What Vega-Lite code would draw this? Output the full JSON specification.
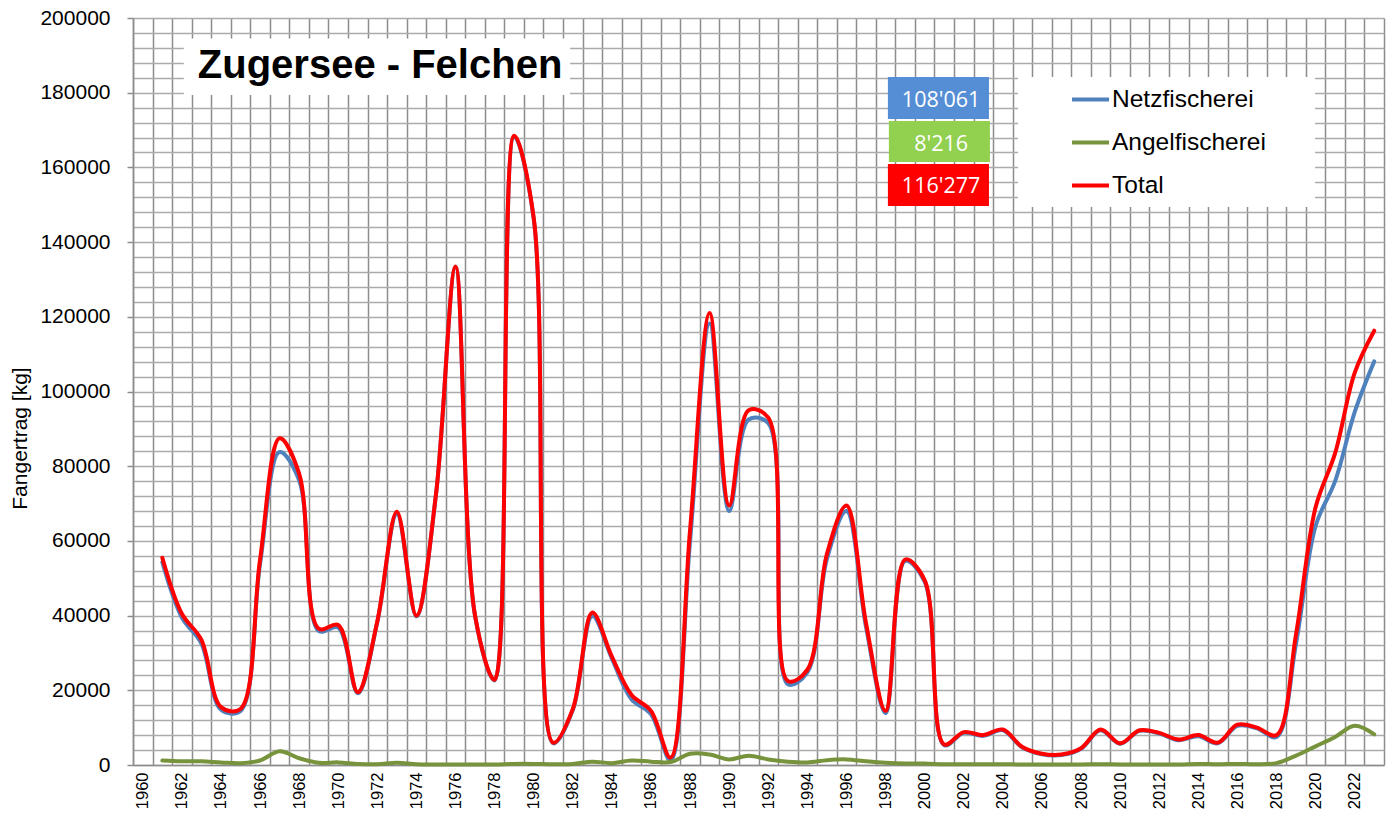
{
  "$schema": "https://vega.github.io/schema/vega-lite/v6.json",
  "autosize": "none",
  "width": 1251,
  "height": 747,
  "padding": {"left": 133, "top": 18, "right": 10, "bottom": 50},
  "background": "white",
  "config": {"view": {"stroke": null}, "font": "Liberation Sans"},
  "data": {"values": [
    {"year":1961,"Netzfischerei":54300,"Angelfischerei":1200,"Total":55500},
    {"year":1962,"Netzfischerei":39500,"Angelfischerei":1000,"Total":40500},
    {"year":1963,"Netzfischerei":32500,"Angelfischerei":1000,"Total":33500},
    {"year":1964,"Netzfischerei":14800,"Angelfischerei":700,"Total":15500},
    {"year":1965,"Netzfischerei":14500,"Angelfischerei":500,"Total":15000},
    {"year":1966,"Netzfischerei":53800,"Angelfischerei":1200,"Total":55000},
    {"year":1967,"Netzfischerei":83800,"Angelfischerei":3700,"Total":87500},
    {"year":1968,"Netzfischerei":76200,"Angelfischerei":1800,"Total":78000},
    {"year":1969,"Netzfischerei":35900,"Angelfischerei":600,"Total":36500},
    {"year":1970,"Netzfischerei":36800,"Angelfischerei":700,"Total":37500},
    {"year":1971,"Netzfischerei":19200,"Angelfischerei":300,"Total":19500},
    {"year":1972,"Netzfischerei":38300,"Angelfischerei":200,"Total":38500},
    {"year":1973,"Netzfischerei":67200,"Angelfischerei":600,"Total":67800},
    {"year":1974,"Netzfischerei":39800,"Angelfischerei":200,"Total":40000},
    {"year":1975,"Netzfischerei":72350,"Angelfischerei":150,"Total":72500},
    {"year":1976,"Netzfischerei":133350,"Angelfischerei":150,"Total":133500},
    {"year":1977,"Netzfischerei":39850,"Angelfischerei":150,"Total":40000},
    {"year":1978,"Netzfischerei":22650,"Angelfischerei":150,"Total":22800},
    {"year":1979,"Netzfischerei":168200,"Angelfischerei":300,"Total":168500},
    {"year":1980,"Netzfischerei":146200,"Angelfischerei":300,"Total":146500},
    {"year":1981,"Netzfischerei":5800,"Angelfischerei":200,"Total":6000},
    {"year":1982,"Netzfischerei":14700,"Angelfischerei":300,"Total":15000},
    {"year":1983,"Netzfischerei":39900,"Angelfischerei":900,"Total":40800},
    {"year":1984,"Netzfischerei":28500,"Angelfischerei":500,"Total":29000},
    {"year":1985,"Netzfischerei":17600,"Angelfischerei":1200,"Total":18800},
    {"year":1986,"Netzfischerei":13600,"Angelfischerei":900,"Total":14500},
    {"year":1987,"Netzfischerei":1200,"Angelfischerei":800,"Total":2000},
    {"year":1988,"Netzfischerei":60000,"Angelfischerei":3000,"Total":63000},
    {"year":1989,"Netzfischerei":118200,"Angelfischerei":2800,"Total":121000},
    {"year":1990,"Netzfischerei":68000,"Angelfischerei":1500,"Total":69500},
    {"year":1991,"Netzfischerei":92500,"Angelfischerei":2500,"Total":95000},
    {"year":1992,"Netzfischerei":91500,"Angelfischerei":1500,"Total":93000},
    {"year":1993,"Netzfischerei":21600,"Angelfischerei":900,"Total":22500},
    {"year":1994,"Netzfischerei":24800,"Angelfischerei":700,"Total":25500},
    {"year":1995,"Netzfischerei":55200,"Angelfischerei":1300,"Total":56500},
    {"year":1996,"Netzfischerei":68000,"Angelfischerei":1500,"Total":69500},
    {"year":1997,"Netzfischerei":37000,"Angelfischerei":1000,"Total":38000},
    {"year":1998,"Netzfischerei":13900,"Angelfischerei":600,"Total":14500},
    {"year":1999,"Netzfischerei":54600,"Angelfischerei":400,"Total":55000},
    {"year":2000,"Netzfischerei":49100,"Angelfischerei":400,"Total":49500},
    {"year":2001,"Netzfischerei":5300,"Angelfischerei":200,"Total":5500},
    {"year":2002,"Netzfischerei":8600,"Angelfischerei":200,"Total":8800},
    {"year":2003,"Netzfischerei":7800,"Angelfischerei":200,"Total":8000},
    {"year":2004,"Netzfischerei":9300,"Angelfischerei":200,"Total":9500},
    {"year":2005,"Netzfischerei":4650,"Angelfischerei":150,"Total":4800},
    {"year":2006,"Netzfischerei":2850,"Angelfischerei":150,"Total":3000},
    {"year":2007,"Netzfischerei":2650,"Angelfischerei":150,"Total":2800},
    {"year":2008,"Netzfischerei":4350,"Angelfischerei":150,"Total":4500},
    {"year":2009,"Netzfischerei":9300,"Angelfischerei":200,"Total":9500},
    {"year":2010,"Netzfischerei":5650,"Angelfischerei":150,"Total":5800},
    {"year":2011,"Netzfischerei":9150,"Angelfischerei":150,"Total":9300},
    {"year":2012,"Netzfischerei":8450,"Angelfischerei":150,"Total":8600},
    {"year":2013,"Netzfischerei":6650,"Angelfischerei":150,"Total":6800},
    {"year":2014,"Netzfischerei":7700,"Angelfischerei":300,"Total":8000},
    {"year":2015,"Netzfischerei":5800,"Angelfischerei":200,"Total":6000},
    {"year":2016,"Netzfischerei":10500,"Angelfischerei":300,"Total":10800},
    {"year":2017,"Netzfischerei":9800,"Angelfischerei":200,"Total":10000},
    {"year":2018,"Netzfischerei":7500,"Angelfischerei":500,"Total":8000},
    {"year":2019,"Netzfischerei":32500,"Angelfischerei":2500,"Total":35000},
    {"year":2020,"Netzfischerei":64000,"Angelfischerei":5000,"Total":69000},
    {"year":2021,"Netzfischerei":76000,"Angelfischerei":7500,"Total":83500},
    {"year":2022,"Netzfischerei":94500,"Angelfischerei":10500,"Total":105000},
    {"year":2023,"Netzfischerei":108061,"Angelfischerei":8216,"Total":116277}
  ]},
  "resolve": {"axis": {"x": "independent", "y": "independent"}},
  "layer": [
    {
      "mark": {"type": "line", "interpolate": "catmull-rom", "strokeWidth": 4, "strokeCap": "round", "strokeJoin": "round"},
      "encoding": {
        "x": {"field": "year", "type": "quantitative",
          "scale": {"domain": [1959.5, 2023.5], "nice": false, "zero": false},
          "axis": {"orient": "bottom", "values": [1960,1962,1964,1966,1968,1970,1972,1974,1976,1978,1980,1982,1984,1986,1988,1990,1992,1994,1996,1998,2000,2002,2004,2006,2008,2010,2012,2014,2016,2018,2020,2022],
            "format": "d", "labelAngle": -90, "labelFontSize": 16.5, "labelColor": "black", "labelPadding": 7,
            "ticks": false, "grid": false, "domainColor": "#8c8c8c", "domainWidth": 1.5, "title": null, "labelFlush": false, "labelOverlap": false}},
        "y": {"field": "Netzfischerei", "type": "quantitative",
          "scale": {"domain": [0, 200000], "nice": false, "zero": true},
          "axis": {"orient": "left", "values": [0,20000,40000,60000,80000,100000,120000,140000,160000,180000,200000],
            "format": "d", "labelFontSize": 21, "labelColor": "black", "labelPadding": 17, "tickSize": 6, "tickColor": "#8c8c8c", "tickWidth": 1.5,
            "grid": false, "domainColor": "#8c8c8c", "domainWidth": 1.5, "labelFlush": false, "labelOverlap": false,
            "title": "Fangertrag [kg]", "titleFontSize": 21, "titleFontWeight": "normal", "titleColor": "black", "titlePadding": 9, "titleY": 420}},
        "color": {"datum": "Netzfischerei", "type": "nominal",
          "scale": {"domain": ["Netzfischerei", "Angelfischerei", "Total"], "range": ["#4F81BD", "#77933C", "#FF0000"]},
          "legend": {"orient": "none", "legendX": 937, "legendY": 61, "title": null, "symbolType": "stroke", "symbolSize": 1369, "symbolStrokeWidth": 4,
            "labelFontSize": 24.5, "labelColor": "black", "labelOffset": 1, "rowPadding": 11, "padding": 0, "zindex": 1}}
      }
    },
    {
      "mark": {"type": "line", "interpolate": "catmull-rom", "strokeWidth": 4, "strokeCap": "round", "strokeJoin": "round"},
      "encoding": {
        "x": {"field": "year", "type": "quantitative",
          "axis": {"orient": "top", "values": [1959.5,1960.5,1961.5,1962.5,1963.5,1964.5,1965.5,1966.5,1967.5,1968.5,1969.5,1970.5,1971.5,1972.5,1973.5,1974.5,1975.5,1976.5,1977.5,1978.5,1979.5,1980.5,1981.5,1982.5,1983.5,1984.5,1985.5,1986.5,1987.5,1988.5,1989.5,1990.5,1991.5,1992.5,1993.5,1994.5,1995.5,1996.5,1997.5,1998.5,1999.5,2000.5,2001.5,2002.5,2003.5,2004.5,2005.5,2006.5,2007.5,2008.5,2009.5,2010.5,2011.5,2012.5,2013.5,2014.5,2015.5,2016.5,2017.5,2018.5,2019.5,2020.5,2021.5,2022.5,2023.5],
            "grid": true, "gridColor": "#8c8c8c", "gridWidth": 1.5, "labels": false, "ticks": false, "domain": false, "title": null}},
        "y": {"field": "Angelfischerei", "type": "quantitative",
          "axis": {"orient": "right", "values": [0,4000,8000,12000,16000,20000,24000,28000,32000,36000,40000,44000,48000,52000,56000,60000,64000,68000,72000,76000,80000,84000,88000,92000,96000,100000,104000,108000,112000,116000,120000,124000,128000,132000,136000,140000,144000,148000,152000,156000,160000,164000,168000,172000,176000,180000,184000,188000,192000,196000,200000],
            "grid": true, "gridColor": "#ababab", "gridWidth": 1.5, "labels": false, "ticks": false, "domain": false, "title": null}},
        "color": {"datum": "Angelfischerei", "type": "nominal"}
      }
    },
    {
      "mark": {"type": "line", "interpolate": "catmull-rom", "strokeWidth": 4, "strokeCap": "round", "strokeJoin": "round"},
      "encoding": {
        "x": {"field": "year", "type": "quantitative", "axis": null},
        "y": {"field": "Total", "type": "quantitative", "axis": null},
        "color": {"datum": "Total", "type": "nominal"}
      }
    },
    {
      "data": {"values": [{}]},
      "mark": {"type": "rect", "fill": "white"},
      "encoding": {
        "x": {"datum": 1962.1, "type": "quantitative", "axis": null}, "x2": {"datum": 1981.86},
        "y": {"datum": 194500, "type": "quantitative", "axis": null}, "y2": {"datum": 179400}
      }
    },
    {
      "data": {"values": [{}]},
      "mark": {"type": "text", "text": "Zugersee - Felchen", "font": "Liberation Sans", "fontWeight": "bold", "fontSize": 40, "align": "center", "baseline": "alphabetic", "color": "black"},
      "encoding": {
        "x": {"datum": 1972.14, "type": "quantitative", "axis": null},
        "y": {"datum": 184000, "type": "quantitative", "axis": null}
      }
    },
    {
      "data": {"values": [{}]},
      "mark": {"type": "rect", "fill": "white"},
      "encoding": {
        "x": {"datum": 2004.78, "type": "quantitative", "axis": null}, "x2": {"datum": 2019.97},
        "y": {"datum": 184203, "type": "quantitative", "axis": null}, "y2": {"datum": 149397}
      }
    },
    {
      "data": {"values": [{}]},
      "mark": {"type": "rect", "fill": "#558ED5"},
      "encoding": {
        "x": {"datum": 1998.12, "type": "quantitative", "axis": null}, "x2": {"datum": 2003.29},
        "y": {"datum": 184203, "type": "quantitative", "axis": null}, "y2": {"datum": 172958}
      }
    },
    {
      "data": {"values": [{}]},
      "mark": {"type": "rect", "fill": "#92D050"},
      "encoding": {
        "x": {"datum": 1998.17, "type": "quantitative", "axis": null}, "x2": {"datum": 2003.34},
        "y": {"datum": 172423, "type": "quantitative", "axis": null}, "y2": {"datum": 161445}
      }
    },
    {
      "data": {"values": [{}]},
      "mark": {"type": "rect", "fill": "#FF0000"},
      "encoding": {
        "x": {"datum": 1998.12, "type": "quantitative", "axis": null}, "x2": {"datum": 2003.29},
        "y": {"datum": 160910, "type": "quantitative", "axis": null}, "y2": {"datum": 149665}
      }
    },
    {
      "data": {"values": [{"label": "108'061", "pos": 176252}, {"label": "8'216", "pos": 164473}, {"label": "116'277", "pos": 153226}]},
      "mark": {"type": "text", "font": "Open Sans", "fontSize": 21.5, "align": "center", "baseline": "alphabetic", "color": "white"},
      "encoding": {
        "x": {"datum": 2000.84, "type": "quantitative", "axis": null},
        "y": {"field": "pos", "type": "quantitative", "axis": null},
        "text": {"field": "label"}
      }
    }
  ]
}
